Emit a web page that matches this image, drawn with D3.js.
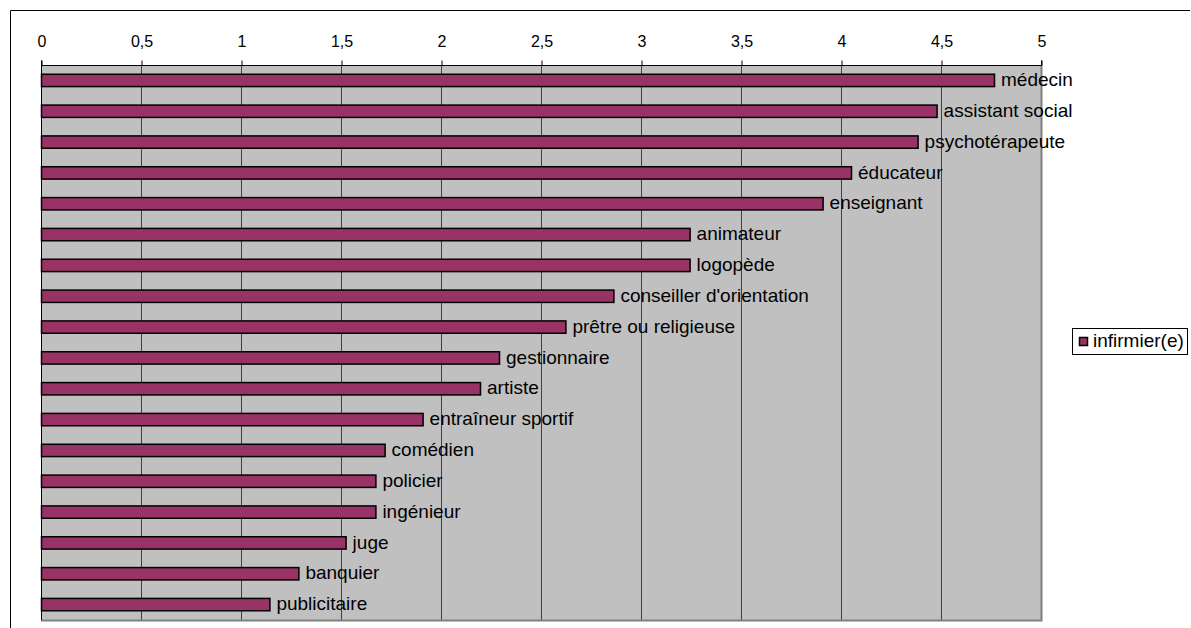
<!DOCTYPE html>
<html><head><meta charset="utf-8">
<script src="https://cdn.jsdelivr.net/npm/d3@7"></script>
<style>body{margin:0;background:#fff}svg{display:block}text{font-family:"Liberation Sans",Arial,sans-serif}</style>
</head><body>
<svg id="c" width="1191" height="628"></svg>
<script>
const categories = ["médecin","assistant social","psychotérapeute","éducateur","enseignant","animateur","logopède","conseiller d'orientation","prêtre ou religieuse","gestionnaire","artiste","entraîneur sportif","comédien","policier","ingénieur","juge","banquier","publicitaire"];
const values = [4.765,4.478,4.383,4.05,3.908,3.243,3.243,2.862,2.622,2.29,2.195,1.908,1.718,1.672,1.672,1.523,1.287,1.142];
const tickValues = [0,0.5,1,1.5,2,2.5,3,3.5,4,4.5,5];
const tickLabels = ["0","0,5","1","1,5","2","2,5","3","3,5","4","4,5","5"];
const seriesName = "infirmier(e)";

const svg = d3.select("#c");
const L=41,R=1041,T=65,B=620;
const x = d3.scaleLinear().domain([0,5]).range([L,R]);
const y = d3.scaleBand().domain(categories).range([T,B]).paddingInner(0.6).paddingOuter(0.3);

// outer frame
svg.append("path").attr("d","M10.5,628 L10.5,10.5 L1190,10.5").attr("fill","none").attr("stroke","#000").attr("stroke-width",1);

// plot background
svg.append("rect").attr("x",L).attr("y",T).attr("width",R-L).attr("height",B-T).attr("fill","#c0c0c0");
// gridlines
svg.append("g").selectAll("line").data(tickValues.filter(v=>v>0&&v<5)).join("line")
  .attr("x1",d=>Math.round(x(d))+0.5).attr("x2",d=>Math.round(x(d))+0.5).attr("y1",T).attr("y2",B)
  .attr("stroke","#404040").attr("stroke-width",1);
// right and bottom border (gray)
svg.append("path").attr("d",`M${L},${B+0.5} L${R+0.5},${B+0.5} L${R+0.5},${T}`).attr("fill","none").attr("stroke","#808080").attr("stroke-width",2);

// bars
svg.append("g").selectAll("rect").data(values).join("rect")
  .attr("x",x(0)+0.5).attr("y",(d,i)=>y(categories[i]))
  .attr("width",d=>x(d)-x(0)).attr("height",y.bandwidth())
  .attr("fill","#993366").attr("stroke","#000").attr("stroke-width",1.5);

// labels
svg.append("g").selectAll("text").data(values).join("text")
  .attr("x",d=>x(d)+7).attr("y",(d,i)=>y(categories[i])+y.bandwidth()/2)
  .attr("dy","0.3em").attr("font-size",19).attr("fill","#000")
  .text((d,i)=>categories[i]);

// top axis
const ax = d3.axisTop(x).tickValues(tickValues).tickFormat((d,i)=>tickLabels[i]).tickSize(5).tickPadding(13.5);
const g = svg.append("g").attr("transform",`translate(0.5,${T+0.5})`).call(ax);
g.select(".domain").attr("stroke","#000").attr("d",`M${L},-5V0H${R}V-5`);
g.selectAll(".tick line").attr("stroke","#000");
g.selectAll(".tick text").attr("font-size",16).attr("fill","#000").attr("font-family","Liberation Sans, Arial, sans-serif");
// left axis line
svg.append("line").attr("x1",L+0.5).attr("x2",L+0.5).attr("y1",T).attr("y2",B).attr("stroke","#000");

// legend
const lg = svg.append("g");
lg.append("rect").attr("x",1072.5).attr("y",328.5).attr("width",115).attr("height",26).attr("fill","#fff").attr("stroke","#000");
lg.append("rect").attr("x",1079.5).attr("y",337.5).attr("width",8).attr("height",8).attr("fill","#993366").attr("stroke","#000").attr("stroke-width",1.5);
lg.append("text").attr("x",1093).attr("y",341.5).attr("dy","0.28em").attr("font-size",19).text(seriesName);
</script>
</body></html>
